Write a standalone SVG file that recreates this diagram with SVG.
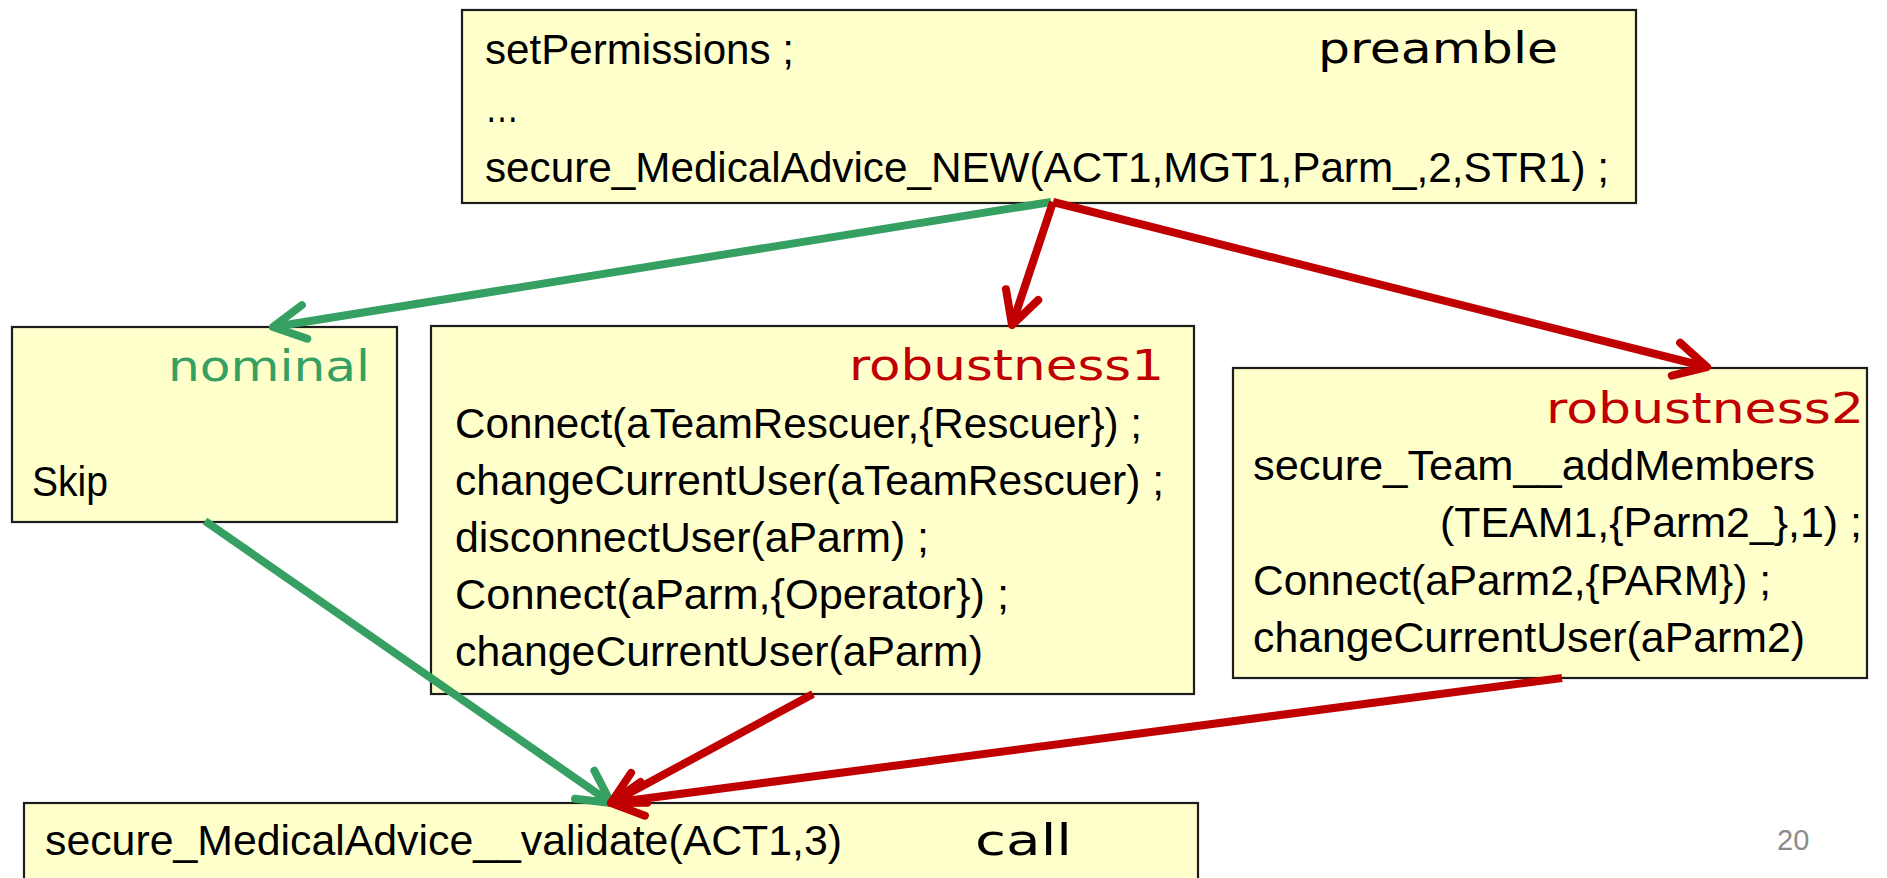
<svg xmlns="http://www.w3.org/2000/svg" width="1887" height="878" viewBox="0 0 1887 878">
  <defs>
    <style>
      .box { fill: #FFFFCC; stroke: #1c1c1c; stroke-width: 2.2; }
      .code { font-family: "Liberation Sans", Arial, sans-serif; font-size: 42px; fill: #000; }
      .tag { font-family: "DejaVu Sans", "Noto Sans", sans-serif; font-size: 43px; }
      .green { fill: #36A062; }
      .red { fill: #C00000; }
      .black { fill: #000; }
      .edge { fill: none; stroke-width: 8; stroke-linecap: butt; }
      .edge.g { stroke: #36A062; }
      .edge.r { stroke: #C00000; }
      .page { font-family: "Liberation Sans", Arial, sans-serif; font-size: 29px; fill: #8b8b8b; }
    </style>
    <marker id="headG" markerUnits="userSpaceOnUse" viewBox="-42 -26 50 52" markerWidth="50" markerHeight="52" refX="0" refY="0" orient="auto">
      <path d="M -32,-17 L 0,0 L -32,17" fill="none" stroke="#36A062" stroke-width="8" stroke-linecap="round" stroke-linejoin="round"/>
    </marker>
    <marker id="headR" markerUnits="userSpaceOnUse" viewBox="-42 -26 50 52" markerWidth="50" markerHeight="52" refX="0" refY="0" orient="auto">
      <path d="M -32,-17 L 0,0 L -32,17" fill="none" stroke="#C00000" stroke-width="8" stroke-linecap="round" stroke-linejoin="round"/>
    </marker>
  </defs>

  <rect width="1887" height="878" fill="#ffffff"/>

  <!-- preamble -->
  <g id="preamble">
    <rect class="box" x="462" y="10" width="1174" height="193"/>
    <text class="code" x="485" y="64" textLength="309" lengthAdjust="spacingAndGlyphs">setPermissions ;</text>
    <text class="code" x="485" y="122" textLength="34" lengthAdjust="spacingAndGlyphs">…</text>
    <text class="code" x="485" y="182" textLength="1124" lengthAdjust="spacingAndGlyphs">secure_MedicalAdvice_NEW(ACT1,MGT1,Parm_,2,STR1) ;</text>
    <text class="tag black" x="1318" y="63" font-size="43" textLength="240" lengthAdjust="spacingAndGlyphs">preamble</text>
  </g>

  <!-- nominal -->
  <g id="nominal">
    <rect class="box" x="12" y="327" width="385" height="195"/>
    <text class="tag green" x="168" y="381" font-size="45" textLength="202" lengthAdjust="spacingAndGlyphs">nominal</text>
    <text class="code" x="32" y="496" textLength="76" lengthAdjust="spacingAndGlyphs">Skip</text>
  </g>

  <!-- robustness1 -->
  <g id="robustness1">
    <rect class="box" x="431" y="326" width="763" height="368"/>
    <text class="tag red" x="849" y="380" font-size="43" textLength="315" lengthAdjust="spacingAndGlyphs">robustness1</text>
    <text class="code" x="455" y="438" textLength="687" lengthAdjust="spacingAndGlyphs">Connect(aTeamRescuer,{Rescuer}) ;</text>
    <text class="code" x="455" y="495" textLength="709" lengthAdjust="spacingAndGlyphs">changeCurrentUser(aTeamRescuer) ;</text>
    <text class="code" x="455" y="552" textLength="474" lengthAdjust="spacingAndGlyphs">disconnectUser(aParm) ;</text>
    <text class="code" x="455" y="609" textLength="554" lengthAdjust="spacingAndGlyphs">Connect(aParm,{Operator}) ;</text>
    <text class="code" x="455" y="666" textLength="528" lengthAdjust="spacingAndGlyphs">changeCurrentUser(aParm)</text>
  </g>

  <!-- robustness2 -->
  <g id="robustness2">
    <rect class="box" x="1233" y="368" width="634" height="310"/>
    <text class="tag red" x="1546" y="423" font-size="43" textLength="318" lengthAdjust="spacingAndGlyphs">robustness2</text>
    <text class="code" x="1253" y="480" textLength="562" lengthAdjust="spacingAndGlyphs">secure_Team__addMembers</text>
    <text class="code" x="1440" y="537" textLength="422" lengthAdjust="spacingAndGlyphs">(TEAM1,{Parm2_},1) ;</text>
    <text class="code" x="1253" y="595" textLength="518" lengthAdjust="spacingAndGlyphs">Connect(aParm2,{PARM}) ;</text>
    <text class="code" x="1253" y="652" textLength="552" lengthAdjust="spacingAndGlyphs">changeCurrentUser(aParm2)</text>
  </g>

  <!-- call -->
  <g id="call">
    <rect class="box" x="24" y="803" width="1174" height="100"/>
    <text class="code" x="45" y="855" textLength="797" lengthAdjust="spacingAndGlyphs">secure_MedicalAdvice__validate(ACT1,3)</text>
    <text class="tag black" x="975" y="855" font-size="46" textLength="97" lengthAdjust="spacingAndGlyphs">call</text>
  </g>

  <!-- connectors -->
  <g id="connectors">
    <path class="edge g" d="M 1051,202 L 273,327" marker-end="url(#headG)"/>
    <path class="edge r" d="M 1053,202 L 1012,325" marker-end="url(#headR)"/>
    <path class="edge r" d="M 1053,202 L 1707,367" marker-end="url(#headR)"/>
    <path class="edge g" d="M 205,521 L 611,803" marker-end="url(#headG)"/>
    <path class="edge r" d="M 813,694 L 611,803" marker-end="url(#headR)"/>
    <path class="edge r" d="M 1562,678 L 611,803" marker-end="url(#headR)"/>
  </g>

  <text class="page" x="1777" y="850">20</text>
</svg>
